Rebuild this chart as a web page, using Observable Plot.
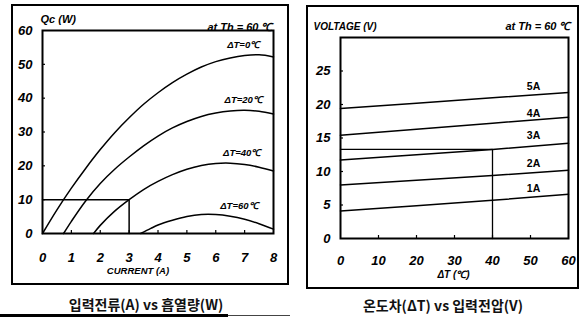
<!DOCTYPE html>
<html><head><meta charset="utf-8">
<script src="https://cdn.jsdelivr.net/npm/d3@7"></script>
<script src="https://cdn.jsdelivr.net/npm/@observablehq/plot@0.6"></script>
<style>
body{margin:0;background:#fff;width:581px;height:322px;position:relative;overflow:hidden;font-family:"Liberation Sans",Arial,sans-serif;}
.box{position:absolute;border:2px solid #000;box-sizing:border-box;}
.cap{position:absolute;font-family:"Noto Sans CJK KR",sans-serif;font-weight:700;font-size:14px;white-space:nowrap;transform:translate(-50%,-50%);color:#111;}
#left,#right{position:absolute;top:0;}
</style></head><body>
<div id="left" style="left:0"></div>
<div id="right" style="left:290px"></div>
<div class="box" style="left:11px;top:4px;width:278px;height:281px"></div>
<div class="box" style="left:306px;top:5px;width:273px;height:284px"></div>
<div class="cap" style="left:146px;top:304px">입력전류(A) vs 흡열량(W)</div>
<div class="cap" style="left:443px;top:305px">온도차(ΔT) vs 입력전압(V)</div>
<div style="position:absolute;left:0;top:314px;width:228px;height:3px;background:#000"></div>
<div style="position:absolute;left:228px;top:315px;width:62px;height:1px;background:#444"></div>
<script>
// ---------- Left chart data: Qc (W) vs current (A) ----------
const currentTicks = [0, 1, 2, 3, 4, 5, 6, 7, 8];
const qcTicks = [0, 10, 20, 30, 40, 50, 60];
const qcDT0 = [[0,0],[0.5,7],[1,13.4],[1.5,19.3],[2,24.8],[2.5,29.8],[3,34.2],[3.5,38.2],[4,41.6],[4.5,44.6],[5,47.1],[5.5,49.2],[6,50.8],[6.5,51.9],[7,52.6],[7.5,52.8],[8,52.2]];
const qcDT20 = [[0.73,0],[1,3.6],[1.5,9.7],[2,14.8],[2.5,19],[3,22.6],[3.5,25.9],[4,28.8],[4.5,31.2],[5,33.1],[5.5,34.6],[6,35.6],[6.5,36.2],[7,36.4],[7.5,36.1],[8,35.3]];
const qcDT40 = [[1.77,0],[2,2.4],[2.5,6.6],[3,10],[3.5,13],[4,15.4],[4.5,17.4],[5,19],[5.5,20.1],[6,20.7],[6.5,20.8],[7,20.4],[7.5,19.6],[8,18.5]];
const qcDT60 = [[3.4,0],[3.75,1.5],[4,2.5],[4.5,3.9],[5,5],[5.5,5.6],[6,5.6],[6.5,5.1],[7,4.2],[7.5,2.9],[8,1.3]];
const qcGuide = [[0,10],[3,10],[3,0]];
const qcLabels = ["ΔT=0℃", "ΔT=20℃", "ΔT=40℃", "ΔT=60℃"];
const qcLabelI = [6.95, 6.95, 6.9, 6.8];
const qcLabelQ = [55.6, 39.6, 23.7, 8.0];

// ---------- Right chart data: voltage (V) vs ΔT (℃) ----------
const dtTicks = [0, 10, 20, 30, 40, 50, 60];
const vTicks = [0, 5, 10, 15, 20, 25];
const dtPoints = [0, 20, 40, 60];
const v5A = [19.4, 20.2, 21.0, 21.8];
const v4A = [15.4, 16.3, 17.2, 18.1];
const v3A = [11.7, 12.5, 13.3, 14.2];
const v2A = [8.0, 8.7, 9.4, 10.2];
const v1A = [4.1, 4.9, 5.7, 6.6];
const vGuide = [[0,13.3],[40,13.3],[40,0]];
const vLabels = ["5A", "4A", "3A", "2A", "1A"];
const vLabelDT = [50.8, 50.8, 50.8, 50.8, 50.8];
const vLabelV = [22.7, 18.7, 15.4, 11.2, 7.5];

const tickFont = {fontSize: 13, fontWeight: "bold", fontStyle: "italic"};
const smallFont = {fontSize: 9.5, fontWeight: "bold", fontStyle: "italic", fill: "#000"};
const baseStyle = {background: "transparent", fontFamily: "'Liberation Sans Narrow','Liberation Sans',Arial,sans-serif", color: "#000", overflow: "visible"};

const qcSeries = [qcDT0, qcDT20, qcDT40, qcDT60];
const leftChart = Plot.plot({
  width: 290, height: 290,
  marginLeft: 42, marginRight: 17, marginTop: 30, marginBottom: 57,
  style: baseStyle,
  x: {domain: [0, 8]},
  y: {domain: [0, 60]},
  marks: [
    Plot.axisX(currentTicks, {tickSize: 0, tickPadding: 19, ...tickFont, label: null}),
    Plot.axisY(qcTicks, {tickSize: 0, tickPadding: 10, ...tickFont, label: null}),
    Plot.axisX(currentTicks.slice(1, -1), {tickSize: 3, dy: -3, tickFormat: () => "", label: null, strokeWidth: 1.2}),
    Plot.axisY(qcTicks.slice(1, -1), {tickSize: 3, dx: 3, tickFormat: () => "", label: null, strokeWidth: 1.2}),
    ...qcSeries.map(s => Plot.line(s, {x: d => d[0], y: d => d[1], curve: "catmull-rom", stroke: "#000", strokeWidth: 1.5})),
    Plot.line(qcGuide, {x: d => d[0], y: d => d[1], stroke: "#000", strokeWidth: 1.5}),
    Plot.text(qcLabels, {x: (d, i) => qcLabelI[i], y: (d, i) => qcLabelQ[i], text: d => d, ...smallFont}),
    Plot.text(["Qc (W)"], {frameAnchor: "top-left", dx: -2, dy: -15, textAnchor: "start", ...smallFont, fontSize: 11}),
    Plot.text(["at Th = 60 ℃"], {frameAnchor: "top-right", dx: -1, dy: -7, textAnchor: "end", ...smallFont, fontSize: 11}),
    Plot.text(["CURRENT (A)"], {frameAnchor: "bottom", dx: -20, dy: 40, ...smallFont, fontSize: 9.5}),
    Plot.frame({stroke: "#000", strokeWidth: 2})
  ]
});
document.getElementById("left").append(leftChart);

const vSeries = [v5A, v4A, v3A, v2A, v1A];
const rightChart = Plot.plot({
  width: 291, height: 290,
  marginLeft: 50, marginRight: 13, marginTop: 37, marginBottom: 52,
  style: baseStyle,
  x: {domain: [0, 60]},
  y: {domain: [0, 30]},
  marks: [
    Plot.axisX(dtTicks, {tickSize: 0, tickPadding: 17, ...tickFont, label: null}),
    Plot.axisY(vTicks, {tickSize: 0, tickPadding: 10, ...tickFont, label: null}),
    Plot.axisX(dtTicks.slice(1, -1), {tickSize: 3, dy: -3, tickFormat: () => "", label: null, strokeWidth: 1.2}),
    Plot.axisY(vTicks.slice(1), {tickSize: 3, dx: 3, tickFormat: () => "", label: null, strokeWidth: 1.2}),
    ...vSeries.map(s => Plot.line(dtPoints, {x: d => d, y: (d, i) => s[i], stroke: "#000", strokeWidth: 1.5})),
    Plot.line(vGuide, {x: d => d[0], y: d => d[1], stroke: "#000", strokeWidth: 1.3}),
    Plot.text(vLabels, {x: (d, i) => vLabelDT[i], y: (d, i) => vLabelV[i], text: d => d, fontSize: 10.5, fontWeight: "bold", fill: "#000"}),
    Plot.text(["VOLTAGE (V)"], {frameAnchor: "top-left", dx: -27, dy: -15, textAnchor: "start", ...smallFont, fontSize: 10}),
    Plot.text(["at Th = 60 ℃"], {frameAnchor: "top-right", dx: 2, dy: -15, textAnchor: "end", ...smallFont, fontSize: 11}),
    Plot.text(["ΔT (℃)"], {frameAnchor: "bottom", dx: -1, dy: 39, ...smallFont, fontSize: 10}),
    Plot.frame({stroke: "#000", strokeWidth: 2})
  ]
});
document.getElementById("right").append(rightChart);
</script>
</body></html>
